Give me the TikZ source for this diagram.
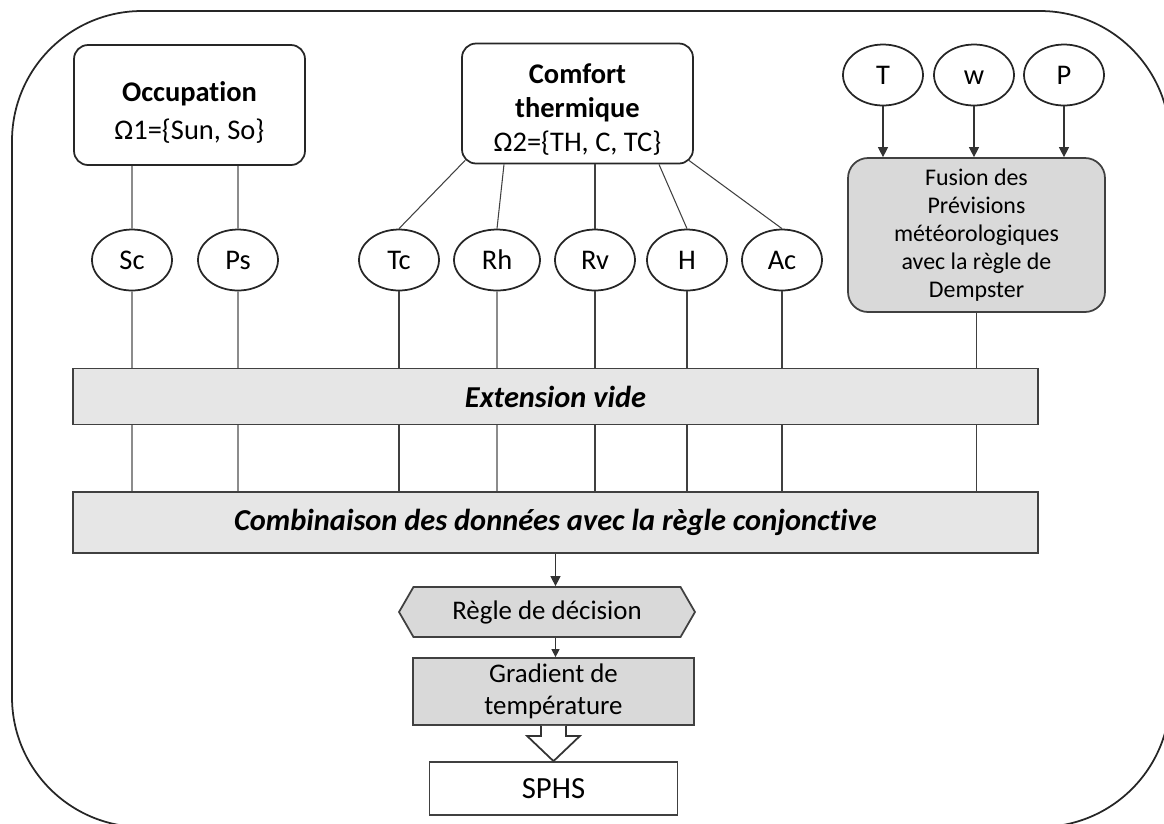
\documentclass[tikz,border=0pt]{standalone}
\usepackage{fontspec}
\setmainfont{Carlito}[Ligatures={NoCommon}]
\usetikzlibrary{arrows.meta,calc,shapes.geometric,shapes.symbols}
\definecolor{barfill}{HTML}{E6E6E6}
\definecolor{boxfill}{HTML}{D9D9D9}
\definecolor{linkgray}{HTML}{8C8C8C}

\begin{document}
\begin{tikzpicture}[x=0.02cm,y=-0.02cm,
    var node/.style={ellipse,draw=black!85,line width=1pt,minimum width=1.6cm,minimum height=1.22cm,inner sep=0pt,text height=10.6pt,text depth=0pt,font=\fontsize{16.2}{19}\selectfont},
    set node/.style={rectangle,rounded corners=0.28cm,draw=black!85,line width=1pt,minimum width=4.62cm,minimum height=2.4cm,align=center,font=\fontsize{16.2}{19.5}\selectfont},
    bar node/.style={rectangle,draw=black!75,line width=1pt,fill=barfill,minimum width=19.3cm,font=\fontsize{17.3}{20}\selectfont\bfseries\itshape},
    step node/.style={draw=black!75,line width=1pt,fill=boxfill,align=center,font=\fontsize{15.3}{18}\selectfont},
    link/.style={line width=0.6pt,color=linkgray},
    dark link/.style={line width=0.6pt,color=black!75},
    feed/.style={-{Triangle[width=0.2cm,length=0.2cm]},line width=0.7pt,color=black!80}]

  \useasboundingbox (0,0) rectangle (1164,823);
  \clip (0,0) rectangle (1164,823);
  \draw[line width=1pt,draw=black!85,rounded corners=2.6cm] (12,11) rectangle (1170,827);

  % frames of discernment
  \node[set node] (occ) at (189.5,105) {\rule{0pt}{20pt}{\bfseries Occupation}\\[2pt]Ω1=\{Sun, So\}};
  \node[set node] (comf) at (577.5,103.5) {\rule{0pt}{18pt}\bfseries Comfort\\\bfseries thermique\\Ω2=\{TH, C, TC\}};

  % sources
  \node[var node] (sc) at (132,260) {Sc};
  \node[var node] (ps) at (238,260) {Ps};
  \node[var node] (tc) at (399,260) {Tc};
  \node[var node,minimum width=1.72cm] (rh) at (497,260) {Rh};
  \node[var node] (rv) at (595,260) {Rv};
  \node[var node] (h) at (687,260) {H};
  \node[var node] (ac) at (782,260) {Ac};

  \node[var node] (t) at (883,75) {T};
  \node[var node] (w) at (974,75) {w};
  \node[var node] (p) at (1064,75) {P};
  \node[step node,rounded corners=0.4cm,minimum width=5.14cm,minimum height=3.08cm,font=\fontsize{13.6}{15.9}\selectfont] (fus) at (976.5,235)
    {Fusion des\\Prévisions\\météorologiques\\avec la règle de\\Dempster};

  % combination
  \node[bar node,minimum height=1.12cm] (ext) at (555.5,396.5) {Extension vide};
  \node[bar node,minimum height=1.22cm] (comb) at (555.5,522.5) {Combinaison des données avec la règle conjonctive};

  % decision
  \node[step node,signal,signal to=east and west,signal pointer angle=120,minimum width=5.92cm,minimum height=1cm] (regle) at (547,612) {Règle de décision};
  \node[step node,minimum width=5.62cm,minimum height=1.34cm] (grad) at (553.5,691.5) {Gradient de\\température};
  \node[step node,fill=white,font=\fontsize{17.5}{20}\selectfont,minimum width=4.96cm,minimum height=1.06cm] (sphs) at (553.5,788.5) {SPHS};

  \path[link]
  (sc |- occ.south) edge (sc)
  (ps |- occ.south) edge (ps);
  \path[dark link]
  ($(comf.south west)+(4,-4)$) edge (tc.north)
  ($(comf.south)+(-73.5,0)$) edge (rh.north)
  (rv |- comf.south) edge (rv)
  ($(comf.south)+(81.5,0)$) edge (h.north)
  ($(comf.south east)+(-5,-4)$) edge (ac.north);

  \foreach \v/\s in {sc/link,ps/link,tc/dark link,rh/link,rv/dark link,h/dark link,ac/dark link,fus/dark link}{
    \path[\s] (\v.south) edge (\v.south |- ext.north)
    (\v.south |- ext.south) edge (\v.south |- comb.north);
  }

  \path[feed]
  (t) edge (t |- fus.north)
  (w) edge (w |- fus.north)
  (p) edge (p |- fus.north)
  (comb.south) edge (comb.south |- regle.north);
  \path[feed,-{Triangle[width=0.16cm,length=0.16cm]}]
  (comb.south |- regle.south) edge (comb.south |- grad.north);

  \draw[fill=white,draw=black!80,line width=1pt] ($(grad.south)+(-12.5,0)$) -- ++(0,10) -- ++(-14,0) -- (sphs.north)
    -- ($(grad.south)+(26.5,10)$) -- ++(-14,0) -- ++(0,-10);
\end{tikzpicture}
\end{document}
